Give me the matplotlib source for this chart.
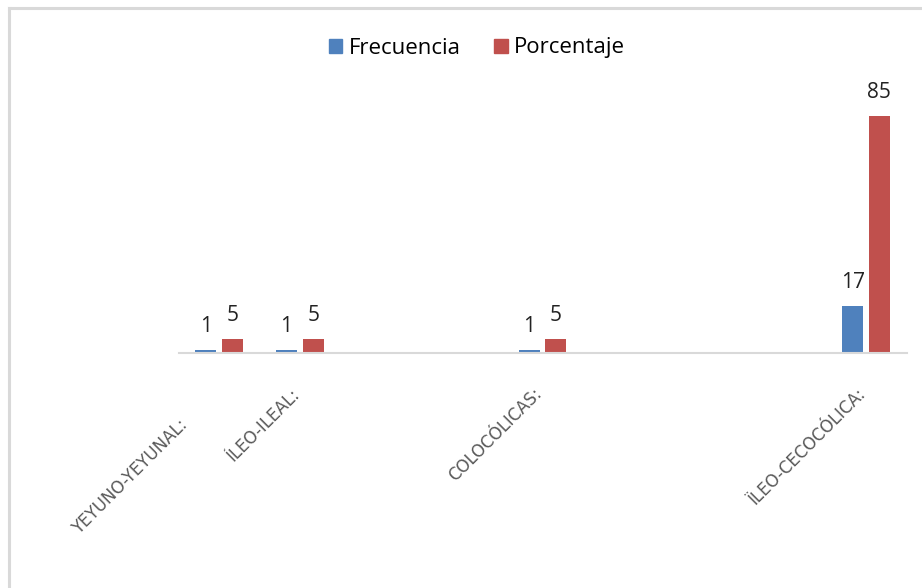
import numpy as np
import matplotlib
matplotlib.use("Agg")
import matplotlib.pyplot as plt
from matplotlib.lines import Line2D
from matplotlib.patches import Patch
from matplotlib.transforms import ScaledTranslation

# data (empty slots have no bars)
categories = ["YEYUNO-YEYUNAL:", "ÍLEO-ILEAL:", "", "", "COLOCÓLICAS:",
              "", "", "", "ÏLEO-CECOCÓLICA:"]
frecuencia = [1, 1, np.nan, np.nan, 1, np.nan, np.nan, np.nan, 17]
porcentaje = [5, 5, np.nan, np.nan, 5, np.nan, np.nan, np.nan, 85]

blue = "#4F81BD"
red = "#C0504D"

plt.rcParams['font.family'] = ['Open Sans', 'DejaVu Sans']

fig = plt.figure(figsize=(9.22, 5.88), dpi=100)
W, H = 922, 588
ax = fig.add_axes([178.5 / W, 1 - 353 / H, 728 / W, 251 / H])

x = np.arange(len(categories))
w = 0.26
off = 0.165
b1 = ax.bar(x - off, frecuencia, w, color=blue, label="Frecuencia")
b2 = ax.bar(x + off, porcentaje, w, color=red, label="Porcentaje")

for bars, vals in ((b1, frecuencia), (b2, porcentaje)):
    for r, v in zip(bars, vals):
        if np.isnan(v):
            continue
        ax.annotate(str(int(v)), (r.get_x() + r.get_width() / 2, v),
                    xytext=(0, 13), textcoords="offset points",
                    ha="center", va="baseline", fontsize=15, color="#222222")

ax.set_xlim(-0.5, len(categories) - 0.5)
ax.set_ylim(0, 90)
for s in ("top", "right", "left"):
    ax.spines[s].set_visible(False)
ax.spines["bottom"].set_color("#D9D9D9")
ax.spines["bottom"].set_linewidth(1.5)
ax.set_yticks([])
ax.set_xticks([])

# rotated category labels
tr = ax.get_xaxis_transform()
for i, lab in enumerate(categories):
    if not lab:
        continue
    dx, dy = -3, -38
    if i == 0:
        dx, dy = -34, -69
    t = tr + ScaledTranslation(dx / 100, dy / 100, fig.dpi_scale_trans)
    ax.text(i, 0, lab, transform=t, rotation=45, rotation_mode="anchor",
            ha="right", va="center", fontsize=12, color="#595959",
            family="DejaVu Sans")

handles = [Patch(color=blue, label="Frecuencia"),
           Patch(color=red, label="Porcentaje")]
fig.legend(handles=handles, loc="center", bbox_to_anchor=(477 / W, 1 - 48 / H),
           ncol=2, frameon=False, fontsize=16, handlelength=0.6,
           handleheight=0.6, handletextpad=0.3, columnspacing=1.5)

# chart border (left and top edges visible)
fig.add_artist(Line2D([9 / W, 9 / W], [0, 1 - 8 / H], transform=fig.transFigure,
                      color="#D9D9D9", lw=2.2))
fig.add_artist(Line2D([9 / W, 1], [1 - 8 / H, 1 - 8 / H], transform=fig.transFigure,
                      color="#D9D9D9", lw=2.2))

fig.savefig("out.png", dpi=100)
